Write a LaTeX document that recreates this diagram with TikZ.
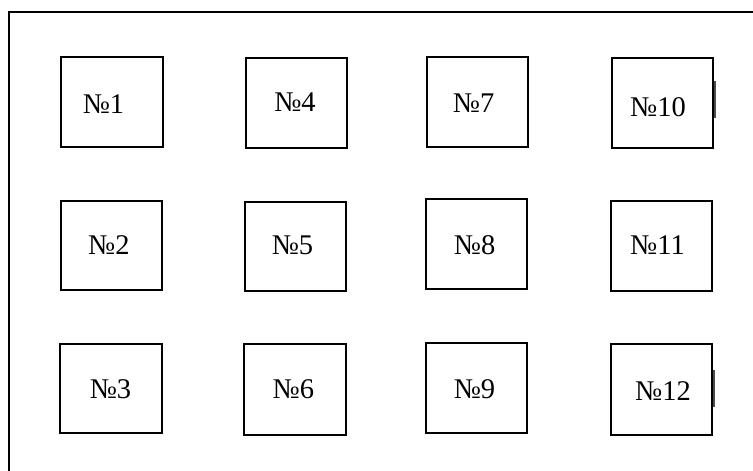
\documentclass[tikz,border=0pt]{standalone}
\usepackage{fontspec}
\setmainfont{Liberation Serif}
\begin{document}
\begin{tikzpicture}[x=1pt,y=-1pt,
  cell/.style={draw,line width=2pt,inner sep=0pt,minimum width=101pt,minimum height=90pt},
  lbl/.style={font=\fontsize{28.5}{32}\selectfont,inner sep=0pt},
  frame/.style={line width=2pt},
  nick/.style={line width=1.2pt,draw=black!70}]
\useasboundingbox (0,0) rectangle (753,471);
\coordinate (fa) at (9,471);
\coordinate (fb) at (9,12);
\coordinate (fc) at (753,12);
\draw[frame] (fa) -- (fb) -- (fc);
% boxes
\node[cell,minimum width=102pt] (b1) at (112,102) {};
\node[cell,minimum height=89pt] (b2) at (111.5,245.5) {};
\node[cell,minimum width=102pt,minimum height=89pt] (b3) at (111,388.5) {};
\node[cell] (b4) at (296.5,103) {};
\node[cell,minimum height=89pt] (b5) at (295.5,246.5) {};
\node[cell,minimum width=102pt,minimum height=91pt] (b6) at (295,389.5) {};
\node[cell] (b7) at (477.5,102) {};
\node[cell] (b8) at (476.5,244) {};
\node[cell] (b9) at (476.5,388) {};
\node[cell] (b10) at (662.5,103) {};
\node[cell] (b11) at (661.5,246) {};
\node[cell,minimum height=91pt] (b12) at (661.5,389.5) {};
% labels
\node[lbl] (t1) at (103.5,104) {№1};
\node[lbl] (t2) at (108.8,245.5) {№2};
\node[lbl] (t3) at (110.5,389) {№3};
\node[lbl] (t4) at (295,102.5) {№4};
\node[lbl] (t5) at (292.5,245.5) {№5};
\node[lbl] (t6) at (293.3,389.7) {№6};
\node[lbl] (t7) at (473.7,102.7) {№7};
\node[lbl] (t8) at (474.7,245.5) {№8};
\node[lbl] (t9) at (474.5,389.7) {№9};
\node[lbl] (t10) at (658,107) {№10};
\node[lbl] (t11) at (657.5,245.5) {№11};
\node[lbl] (t12) at (663,391) {№12};
% small edge marks
\draw[nick] ([xshift=1pt,yshift=-15pt]b10.east) -- ([xshift=1pt,yshift=22pt]b10.east);
\draw[nick] ([xshift=1pt,yshift=-17.5pt]b12.east) -- ([xshift=1pt,yshift=19.5pt]b12.east);
\end{tikzpicture}
\end{document}
